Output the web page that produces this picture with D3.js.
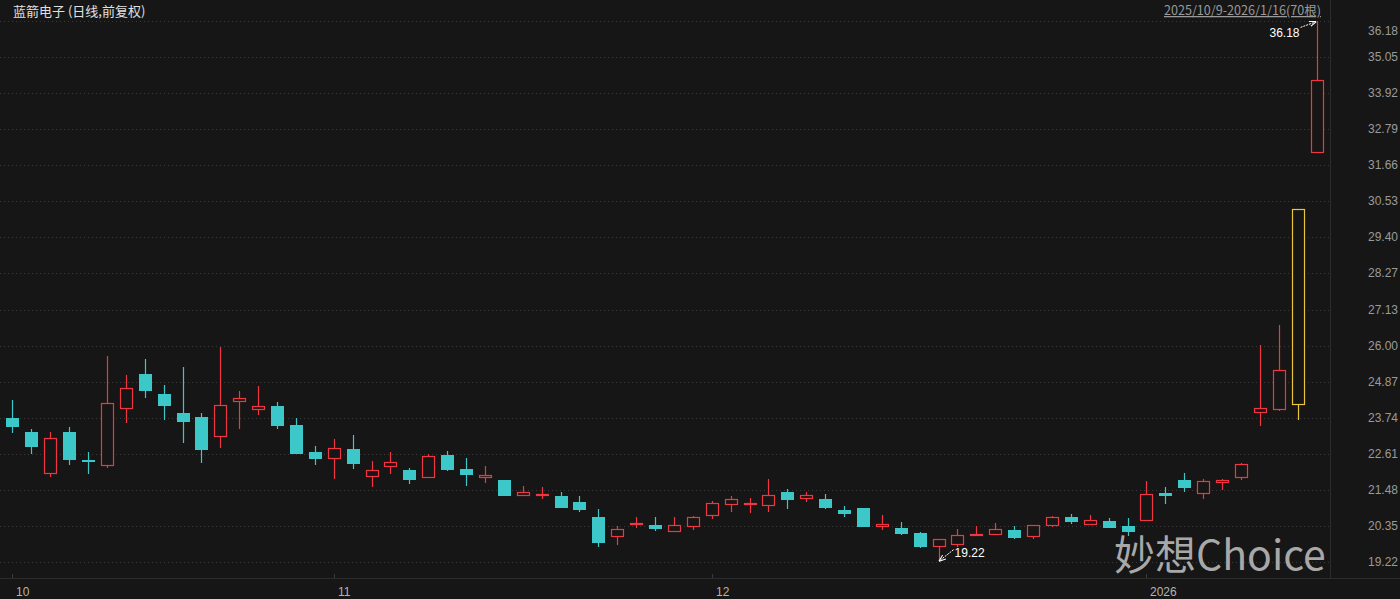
<!DOCTYPE html>
<html lang="zh">
<head>
<meta charset="utf-8">
<title>蓝箭电子 日线</title>
<script src="https://cdn.jsdelivr.net/npm/d3@7"></script>
<style>
  html, body { margin: 0; padding: 0; background: #161616; }
  svg { display: block; }
  text { font-family: "Liberation Sans", Arial, sans-serif; }
</style>
</head>
<body>
<script>
// trading days 2025/10/9 - 2026/1/16 (70 bars)
var dates = [
  "2025-10-09","2025-10-10","2025-10-13","2025-10-14","2025-10-15","2025-10-16","2025-10-17",
  "2025-10-20","2025-10-21","2025-10-22","2025-10-23","2025-10-24","2025-10-27","2025-10-28",
  "2025-10-29","2025-10-30","2025-10-31","2025-11-03","2025-11-04","2025-11-05","2025-11-06",
  "2025-11-07","2025-11-10","2025-11-11","2025-11-12","2025-11-13","2025-11-14","2025-11-17",
  "2025-11-18","2025-11-19","2025-11-20","2025-11-21","2025-11-24","2025-11-25","2025-11-26",
  "2025-11-27","2025-11-28","2025-12-01","2025-12-02","2025-12-03","2025-12-04","2025-12-05",
  "2025-12-08","2025-12-09","2025-12-10","2025-12-11","2025-12-12","2025-12-15","2025-12-16",
  "2025-12-17","2025-12-18","2025-12-19","2025-12-22","2025-12-23","2025-12-24","2025-12-25",
  "2025-12-26","2025-12-29","2025-12-30","2025-12-31","2026-01-05","2026-01-06","2026-01-07",
  "2026-01-08","2026-01-09","2026-01-12","2026-01-13","2026-01-14","2026-01-15","2026-01-16"
];
var open = [23.73,23.29,21.98,23.29,22.40,22.23,24.02,25.11,24.49,23.90,23.76,23.14,24.24,23.99,
  24.11,23.51,22.66,22.43,22.76,21.89,22.20,22.10,21.86,22.57,22.13,21.86,21.78,21.29,
  21.28,21.28,21.10,20.62,19.99,20.38,20.37,20.16,20.31,20.66,20.99,21.02,20.98,21.41,
  21.18,21.19,20.85,20.90,20.31,20.29,20.13,19.69,19.75,20.06,20.07,20.21,19.99,20.35,
  20.62,20.38,20.51,20.34,20.49,21.38,21.78,21.36,21.68,21.84,23.88,23.97,24.13,32.06];
var high = [24.30,23.39,23.29,23.45,22.66,25.68,25.09,25.58,24.77,25.34,23.90,25.96,24.58,24.74,
  24.23,23.73,22.85,23.07,23.20,22.38,22.65,22.15,22.59,22.69,22.48,22.23,21.78,21.60,
  21.57,21.42,21.28,20.86,20.34,20.63,20.62,20.61,20.66,21.12,21.28,21.22,21.81,21.49,
  21.42,21.35,20.97,20.92,20.69,20.47,20.15,19.93,20.25,20.34,20.43,20.34,20.38,20.65,
  20.72,20.69,20.58,20.58,21.75,21.55,21.99,21.81,21.82,22.33,26.02,26.64,30.28,36.18];
var low = [23.27,22.60,21.88,22.26,21.97,22.15,23.58,24.37,23.67,22.96,22.33,22.79,23.39,23.83,
  23.39,22.60,22.26,21.81,22.14,21.57,21.97,21.66,21.86,22.07,21.59,21.68,21.28,21.29,
  21.20,20.91,20.78,19.68,19.73,20.28,20.19,20.16,20.23,20.55,20.79,20.76,20.77,20.86,
  21.08,20.87,20.61,20.30,20.21,20.06,19.65,19.22,19.67,20.06,20.07,19.92,19.94,20.30,
  20.40,20.38,20.28,20.04,20.49,21.02,21.40,21.19,21.47,21.77,23.48,23.95,23.67,32.06];
var close = [23.45,22.82,23.09,22.42,22.39,24.19,24.66,24.59,24.11,23.62,22.73,24.14,24.36,24.11,
  23.48,22.60,22.44,22.78,22.28,22.10,22.35,21.78,22.54,22.10,21.94,21.94,21.28,21.41,
  21.35,20.91,20.84,19.82,20.25,20.43,20.25,20.36,20.62,21.07,21.18,21.06,21.30,21.16,
  21.30,20.91,20.73,20.31,20.40,20.09,19.68,19.93,20.05,20.09,20.25,19.97,20.37,20.61,
  20.47,20.53,20.28,20.15,21.35,21.29,21.54,21.74,21.77,22.28,24.03,25.23,30.28,34.33];

var yTicks = [19.22,20.35,21.48,22.61,23.74,24.87,26.00,27.13,28.27,29.40,30.53,31.66,32.79,33.92,35.05,36.18];
var monthTicks = ["2025-10-09","2025-11-03","2025-12-01","2026-01-05"];
var monthLabels = ["10","11","12","2026"];

var w = 1400, h = 599;
var plotRight = 1330, axisY = 578;

var bars = dates.map(function(d, i) {
  return {date: d, o: open[i], h: high[i], l: low[i], c: close[i], prev: i > 0 ? close[i - 1] : null};
});

var x = d3.scaleBand()
  .domain(dates)
  .range([3, 1326])
  .paddingInner(0.31)
  .paddingOuter(0.155);

var y = d3.scaleLinear()
  .domain([19.22, 36.18])
  .range([561.7, 21.4]);

var red = "#f03642", cyan = "#3cc8c8", yellow = "#eac43a";

function colorOf(d) {
  if (d.prev !== null && d.c >= Math.round(d.prev * 120) / 100 - 0.005) return yellow; // limit up
  return d.c >= d.o ? red : cyan;
}

var svg = d3.select("body").append("svg")
  .attr("width", w)
  .attr("height", h);

svg.append("rect").attr("width", w).attr("height", h).attr("fill", "#161616");

// grid
svg.append("g")
  .selectAll("line")
  .data(yTicks)
  .enter()
  .append("line")
  .attr("x1", 0)
  .attr("x2", plotRight)
  .attr("y1", function(d) { return Math.round(y(d)) + 0.5; })
  .attr("y2", function(d) { return Math.round(y(d)) + 0.5; })
  .attr("stroke", "#3a3a3a")
  .attr("stroke-dasharray", "1,3");

// plot border + x axis line
svg.append("line")
  .attr("x1", plotRight + 0.5).attr("x2", plotRight + 0.5)
  .attr("y1", 0).attr("y2", axisY)
  .attr("stroke", "#2c2c2c");
svg.append("line")
  .attr("x1", 0).attr("x2", w)
  .attr("y1", axisY + 0.5).attr("y2", axisY + 0.5)
  .attr("stroke", "#2c2c2c");

// right axis labels
svg.append("g")
  .selectAll("text")
  .data(yTicks)
  .enter()
  .append("text")
  .attr("x", 1368)
  .attr("y", function(d, i) { return i === yTicks.length - 1 ? 35 : y(d) + 4; })
  .attr("fill", "#9a9a9a")
  .attr("font-size", 12)
  .text(function(d) { return d.toFixed(2); });

// month ticks
var mt = svg.append("g")
  .selectAll("g")
  .data(monthTicks)
  .enter()
  .append("g")
  .attr("transform", function(d) { return "translate(" + Math.round(x(d) + x.bandwidth() / 2) + ",0)"; });
mt.append("line")
  .attr("x1", 0.5).attr("x2", 0.5)
  .attr("y1", axisY - 4).attr("y2", axisY)
  .attr("stroke", "#3a3a3a");
mt.append("text")
  .attr("x", 4)
  .attr("y", 596)
  .attr("fill", "#b4b4b4")
  .attr("font-size", 12)
  .text(function(d, i) { return monthLabels[i]; });

// watermark
svg.append("text")
  .attr("x", 1114)
  .attr("y", 570)
  .attr("fill", "#c4c4c4")
  .attr("fill-opacity", 0.85)
  .attr("font-size", 41)
  .style("font-family", "'Noto Sans CJK SC', 'Noto Sans', sans-serif")
  .text("妙想Choice");

// candles
var candles = svg.append("g")
  .selectAll("g")
  .data(bars)
  .enter()
  .append("g");

candles.each(function(d) {
  var g = d3.select(this);
  var col = colorOf(d);
  var cx = Math.round(x(d.date) + x.bandwidth() / 2) + 0.5;
  var bw = 13;
  var left = Math.round(cx - 0.5) - 6;
  var top = Math.round(y(Math.max(d.o, d.c)));
  var bot = Math.round(y(Math.min(d.o, d.c)));
  var hi = Math.round(y(d.h)), lo = Math.round(y(d.l));
  var up = d.c >= d.o;
  if (up) {
    if (hi < top) g.append("line").attr("x1", cx).attr("x2", cx)
      .attr("y1", hi).attr("y2", top).attr("stroke", col).attr("stroke-width", 1.2);
    if (lo > bot) g.append("line").attr("x1", cx).attr("x2", cx)
      .attr("y1", bot).attr("y2", lo).attr("stroke", col).attr("stroke-width", 1.2);
    g.append("rect")
      .attr("x", left + 0.5).attr("y", top + 0.5)
      .attr("width", bw - 1).attr("height", Math.max(bot - top - 1, 1))
      .attr("fill", "#161616").attr("stroke", col).attr("stroke-width", 1.2);
  } else {
    g.append("line").attr("x1", cx).attr("x2", cx)
      .attr("y1", hi).attr("y2", lo).attr("stroke", col).attr("stroke-width", 1.2);
    g.append("rect")
      .attr("x", left).attr("y", top)
      .attr("width", bw).attr("height", Math.max(bot - top, 2))
      .attr("fill", col);
  }
});

// max / min annotations
var iMax = d3.maxIndex(high), iMin = d3.minIndex(low);
var maxX = x(dates[iMax]) + x.bandwidth() / 2, maxY = y(high[iMax]);
var minX = x(dates[iMin]) + x.bandwidth() / 2, minY = y(low[iMin]);

svg.append("defs").append("marker")
  .attr("id", "ah")
  .attr("viewBox", "0 0 8 8")
  .attr("refX", 7).attr("refY", 4)
  .attr("markerWidth", 7).attr("markerHeight", 7)
  .attr("orient", "auto")
  .append("path").attr("d", "M0,1 L8,4 L0,7").attr("fill", "none").attr("stroke", "#fff").attr("stroke-width", 1.2);

svg.append("line")
  .attr("x1", maxX - 16).attr("y1", maxY + 6)
  .attr("x2", maxX - 1).attr("y2", maxY + 0.5)
  .attr("stroke", "#fff").attr("stroke-dasharray", "2,1")
  .attr("marker-end", "url(#ah)");
svg.append("text")
  .attr("x", maxX - 17).attr("y", maxY + 16)
  .attr("text-anchor", "end")
  .attr("fill", "#fff")
  .attr("font-size", 12)
  .text(high[iMax].toFixed(2));

svg.append("line")
  .attr("x1", minX + 15).attr("y1", minY - 12)
  .attr("x2", minX + 1).attr("y2", minY - 1)
  .attr("stroke", "#fff").attr("stroke-dasharray", "2,1")
  .attr("marker-end", "url(#ah)");
svg.append("text")
  .attr("x", minX + 16).attr("y", minY - 5)
  .attr("fill", "#fff")
  .attr("font-size", 12)
  .text(low[iMin].toFixed(2));

// title + range
svg.append("text")
  .attr("x", 13).attr("y", 16)
  .attr("fill", "#e0e0e0")
  .attr("font-size", 13)
  .style("font-family", "'Noto Sans CJK SC', sans-serif")
  .text("蓝箭电子 (日线,前复权)");

svg.append("text")
  .attr("x", 1321).attr("y", 15)
  .attr("text-anchor", "end")
  .attr("fill", "#9a9a9a")
  .attr("font-size", 12.6)
  .style("text-decoration", "underline")
  .style("font-family", "'Noto Sans CJK SC', sans-serif")
  .text("2025/10/9-2026/1/16(70根)");
</script>
</body>
</html>
